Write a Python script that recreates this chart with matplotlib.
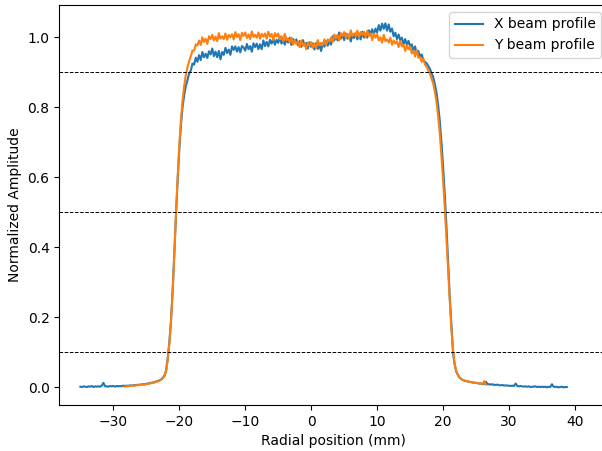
import numpy as np
import matplotlib
matplotlib.use("Agg")
import matplotlib.pyplot as plt

# ---------------- data ----------------
step = 0.25

# X beam profile (blue): x from -35.00 to 38.75
x_beam_start = -35.0
x_foot_left = [0.002, 0.001, 0.003, 0.002, 0.001, 0.003, 0.002, 0.004, 0.001, 0.003,
               0.002, 0.003, 0.002, 0.005, 0.013, 0.003, 0.003, 0.002, 0.004, 0.003,
               0.004, 0.002, 0.004, 0.003, 0.004, 0.003, 0.005, 0.004, 0.005, 0.004,
               0.006, 0.005, 0.006, 0.006, 0.007, 0.007, 0.008, 0.008, 0.009, 0.009,
               0.010, 0.011, 0.012, 0.013, 0.014, 0.015, 0.017, 0.018]
x_rise = [0.020, 0.023, 0.027, 0.034, 0.048, 0.085, 0.130, 0.192, 0.281, 0.383,
          0.492, 0.590, 0.678, 0.748, 0.801, 0.836, 0.861, 0.878, 0.897, 0.905,
          0.925, 0.922, 0.942, 0.930]
x_plateau = [0.949, 0.935, 0.958, 0.943, 0.953, 0.941, 0.960, 0.951, 0.968, 0.946,
             0.959, 0.943, 0.961, 0.937, 0.958, 0.950, 0.970, 0.955, 0.965, 0.950,
             0.974, 0.964, 0.974, 0.959, 0.972, 0.957, 0.975, 0.971, 0.962, 0.981,
             0.966, 0.975, 0.959, 0.983, 0.972, 0.982, 0.966, 0.980, 0.966, 0.991,
             0.975, 0.987, 0.974, 0.993, 0.982, 0.996, 0.979, 0.993, 0.984, 1.002,
             0.982, 0.993, 0.979, 0.997, 0.985, 0.999, 0.978, 0.995, 0.985, 0.994,
             0.977, 0.989, 0.973, 0.992, 0.976, 0.984, 0.968, 0.986, 0.973, 0.983,
             0.965, 0.984, 0.967, 0.978, 0.961, 0.983, 0.973, 0.990, 0.976, 0.989,
             0.979, 1.003, 0.991, 1.004, 0.991, 1.014, 0.996, 1.007, 0.992, 1.011,
             0.996, 1.006, 0.988, 1.007, 0.998, 1.011, 0.994, 1.007, 0.994, 1.016,
             0.999, 1.010, 0.999, 1.020, 1.009, 1.023, 1.008, 1.025, 1.014, 1.035,
             1.019, 1.039, 1.024, 1.040, 1.019, 1.037, 1.016, 1.025, 1.003, 1.013,
             0.995, 1.008, 0.992, 0.999, 0.980, 0.995, 0.978, 0.990, 0.974, 0.980,
             0.961, 0.974, 0.955, 0.961, 0.944, 0.951, 0.935]
x_fall = [0.930, 0.926, 0.918, 0.910, 0.898, 0.886, 0.866, 0.842, 0.806, 0.760,
          0.700, 0.630, 0.552, 0.462, 0.365, 0.262, 0.180, 0.100, 0.065, 0.045,
          0.035, 0.028, 0.024, 0.021]
x_foot_right = [0.019, 0.018, 0.017, 0.016, 0.015, 0.014, 0.013, 0.013, 0.012, 0.011,
                0.011, 0.010, 0.010, 0.016, 0.009, 0.009, 0.008, 0.009, 0.007, 0.007,
                0.008, 0.006, 0.006, 0.007, 0.005, 0.006, 0.005, 0.005, 0.004, 0.005,
                0.004, 0.011, 0.004, 0.003, 0.004, 0.003, 0.002, 0.003, 0.002, 0.003,
                0.001, 0.002, 0.002, 0.003, 0.001, 0.002, 0.001, 0.002, 0.001, 0.002,
                0.000, 0.002, 0.001, 0.009, 0.002, 0.001, 0.002, 0.000, 0.001, 0.002,
                0.000, 0.001, 0.001]

# Y beam profile (orange): x from -28.25 to 26.50
y_beam_start = -28.25
y_foot_left = [0.002, 0.003, 0.003, 0.004, 0.004, 0.005, 0.005, 0.006, 0.006, 0.007,
               0.007, 0.008, 0.008, 0.009, 0.010, 0.011, 0.012, 0.013, 0.014, 0.016,
               0.017]
y_rise = [0.019, 0.022, 0.026, 0.032, 0.045, 0.078, 0.125, 0.190, 0.275, 0.380,
          0.495, 0.600, 0.690, 0.765, 0.820, 0.862, 0.893, 0.915, 0.932, 0.946,
          0.962, 0.962, 0.980, 0.977]
y_plateau = [0.991, 0.978, 1.000, 0.987, 0.996, 0.981, 1.003, 0.995, 1.007, 0.991,
             1.002, 0.989, 1.012, 0.996, 1.003, 0.995, 1.011, 0.993, 1.007, 1.000,
             1.009, 0.994, 1.015, 1.001, 1.009, 0.992, 1.013, 1.004, 1.014, 0.998,
             1.008, 0.995, 1.017, 1.001, 1.007, 0.999, 1.014, 0.996, 1.010, 1.002,
             1.011, 0.996, 1.016, 1.002, 1.010, 0.992, 1.012, 1.002, 1.011, 0.994,
             1.003, 0.989, 1.010, 0.992, 0.996, 0.986, 0.999, 0.979, 0.991, 0.981,
             0.988, 0.972, 0.991, 0.976, 0.983, 0.966, 0.985, 0.976, 0.986, 0.970,
             0.981, 0.969, 0.992, 0.977, 0.984, 0.977, 0.994, 0.978, 0.994, 0.988,
             0.999, 0.986, 1.008, 0.997, 1.007, 0.991, 1.012, 1.004, 1.015, 0.999,
             1.010, 0.997, 1.020, 1.004, 1.011, 1.003, 1.019, 1.001, 1.015, 1.007,
             1.016, 1.000, 1.019, 1.004, 1.011, 0.992, 1.011, 0.999, 1.009, 0.991,
             1.000, 0.985, 1.007, 0.989, 0.994, 0.985, 0.999, 0.979, 0.991, 0.982,
             0.989, 0.972, 0.989, 0.974, 0.979, 0.961, 0.977, 0.966, 0.974, 0.954,
             0.962, 0.945, 0.964, 0.942, 0.943, 0.930, 0.939]
y_fall = [0.922, 0.916, 0.905, 0.896, 0.882, 0.868, 0.845, 0.815, 0.775, 0.725,
          0.660, 0.590, 0.515, 0.430, 0.340, 0.250, 0.170, 0.108, 0.068, 0.046,
          0.035, 0.028, 0.024, 0.021]
y_foot_right = [0.020, 0.018, 0.017, 0.016, 0.015, 0.014, 0.013, 0.013, 0.012, 0.011,
                0.011, 0.010, 0.018, 0.008]

threshold_levels = [0.9, 0.5, 0.1]
series_labels = ["X beam profile", "Y beam profile"]
x_ticks = [-30, -20, -10, 0, 10, 20, 30, 40]
y_ticks = [0.0, 0.2, 0.4, 0.6, 0.8, 1.0]

# ---------------- assemble ----------------
xb_vals = np.array(x_foot_left + x_rise + x_plateau + x_fall + x_foot_right)
xb_pos = x_beam_start + step * np.arange(len(xb_vals))
yb_vals = np.array(y_foot_left + y_rise + y_plateau + y_fall + y_foot_right)
yb_pos = y_beam_start + step * np.arange(len(yb_vals))

# ---------------- plot ----------------
fig = plt.figure(figsize=(6.02, 4.51), dpi=100)
ax = fig.add_axes([59.3 / 602, 46 / 451, (608 - 59.3) / 602, 400 / 451])

ax.plot(xb_pos, xb_vals, color="#1f77b4", lw=1.5, label=series_labels[0])
ax.plot(yb_pos, yb_vals, color="#ff7f0e", lw=1.5, label=series_labels[1])
for lev in threshold_levels:
    ax.axhline(lev, color="black", ls="--", lw=0.7)

ax.set_xlim(-38.19, 45.0)
ax.set_ylim(-0.0503, 1.0923)
ax.set_xticks(x_ticks)
ax.set_yticks(y_ticks)
ax.set_xlabel("Radial position (mm)")
ax.set_ylabel("Normalized Amplitude")
ax.legend(loc="upper right")

fig.savefig("out.png", dpi=100)
